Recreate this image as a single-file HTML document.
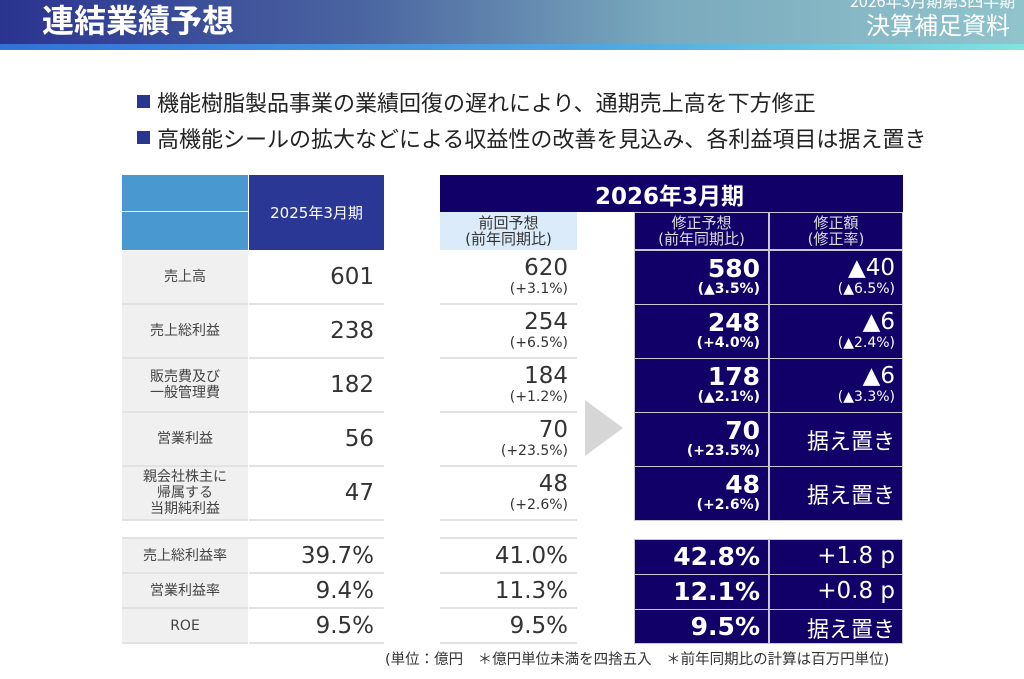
<!DOCTYPE html>
<html><head><meta charset="utf-8"><style>
*{margin:0;padding:0;box-sizing:border-box}
body{width:1024px;height:679px;background:#fff;position:relative;overflow:hidden;font-family:"DejaVu Sans","Noto Sans CJK JP",sans-serif;color:#333}
.a{position:absolute}
.hdr{left:0;top:0;width:1024px;height:44px;background:linear-gradient(90deg,#2a3490 0%,#4a64a0 35%,#7aaabd 65%,#90c4cc 100%)}
.strip{left:0;top:44px;width:1024px;height:6px;background:linear-gradient(90deg,#3470d8,#50a8e0 60%,#80e4e0)}
.c{position:absolute;display:flex;align-items:center;justify-content:center;text-align:center}
.r{position:absolute;text-align:right;white-space:nowrap}
.lab{background:#f0f0f0;font-size:14px;color:#444;line-height:16px;border-bottom:2px solid #e2e2e2}
.val{border-bottom:2px solid #e2e2e2}
.nv{background:#100068;border:1px solid #c8c8d0;color:#fff}
.big{font-size:23px;line-height:25px}
.bb{font-size:25px;line-height:25px;font-weight:bold}
.sm{font-size:14px;line-height:16px}
</style></head><body>
<div class="a hdr"></div><div class="a strip"></div>
<div class="a" style="left:42px;top:-4px;font-size:32px;font-weight:bold;color:#fff;font-family:'Noto Sans CJK JP',sans-serif">連結業績予想</div>
<div class="a" style="left:850px;top:-12px;font-size:16px;color:#fff;font-family:'Noto Sans CJK JP',sans-serif">2026年3月期第3四半期</div>
<div class="a" style="left:866px;top:6px;font-size:24px;color:#fff;font-family:'Noto Sans CJK JP',sans-serif">決算補足資料</div>

<div class="a" style="left:137px;top:95px;width:13px;height:13px;background:#2a3590"></div>
<div class="a" style="left:157px;top:86px;font-size:22px;color:#222">機能樹脂製品事業の業績回復の遅れにより、通期売上高を下方修正</div>
<div class="a" style="left:137px;top:131px;width:13px;height:13px;background:#2a3590"></div>
<div class="a" style="left:157px;top:122px;font-size:22px;color:#222">高機能シールの拡大などによる収益性の改善を見込み、各利益項目は据え置き</div>

<div class="a" style="left:122px;top:175px;width:126px;height:36px;background:#4a98d0"></div>
<div class="a" style="left:122px;top:212px;width:126px;height:38px;background:#4a98d0"></div>
<div class="c" style="left:249px;top:175px;width:135px;height:75px;background:#2a3795;color:#fff;font-size:15px">2025年3月期</div>

<div class="c" style="left:440px;top:175px;width:463px;height:37px;background:#100068;color:#fff;font-size:23px;font-weight:bold;justify-content:flex-start;padding-left:155px">2026年3月期</div>
<div class="c" style="left:440px;top:212px;width:137px;height:38px;background:#dcebfa;color:#333;font-size:15px;line-height:16px">前回予想<br>(前年同期比)</div>
<div class="c nv" style="left:634px;top:212px;width:135px;height:38px;font-size:15px;line-height:16px;color:#ddd">修正予想<br>(前年同期比)</div>
<div class="c nv" style="left:769px;top:212px;width:134px;height:38px;font-size:15px;line-height:16px;color:#ddd">修正額<br>(修正率)</div>

<div class="a" style="left:585px;top:400px;width:0;height:0;border-top:28px solid transparent;border-bottom:28px solid transparent;border-left:38px solid #d6d6d6"></div>

<div class="c lab" style="left:122px;top:251px;width:126px;height:54px">売上高</div>
<div class="c lab" style="left:122px;top:305px;width:126px;height:54px">売上総利益</div>
<div class="c lab" style="left:122px;top:359px;width:126px;height:54px">販売費及び<br>一般管理費</div>
<div class="c lab" style="left:122px;top:413px;width:126px;height:54px">営業利益</div>
<div class="c lab" style="left:122px;top:467px;width:126px;height:54px">親会社株主に<br>帰属する<br>当期純利益</div>

<div class="a val" style="left:249px;top:251px;width:135px;height:54px"></div>
<div class="a val" style="left:249px;top:305px;width:135px;height:54px"></div>
<div class="a val" style="left:249px;top:359px;width:135px;height:54px"></div>
<div class="a val" style="left:249px;top:413px;width:135px;height:54px"></div>
<div class="a val" style="left:249px;top:467px;width:135px;height:54px"></div>
<div class="r big" style="left:249px;width:125px;top:265px">601</div>
<div class="r big" style="left:249px;width:125px;top:319px">238</div>
<div class="r big" style="left:249px;width:125px;top:373px">182</div>
<div class="r big" style="left:249px;width:125px;top:427px">56</div>
<div class="r big" style="left:249px;width:125px;top:481px">47</div>

<div class="a val" style="left:440px;top:251px;width:137px;height:54px"></div>
<div class="a val" style="left:440px;top:305px;width:137px;height:54px"></div>
<div class="a val" style="left:440px;top:359px;width:137px;height:54px"></div>
<div class="a val" style="left:440px;top:413px;width:137px;height:54px"></div>
<div class="a val" style="left:440px;top:467px;width:137px;height:54px"></div>
<div class="r" style="left:440px;width:128px;top:256px"><div class="big">620</div><div class="sm">(+3.1%)</div></div>
<div class="r" style="left:440px;width:128px;top:310px"><div class="big">254</div><div class="sm">(+6.5%)</div></div>
<div class="r" style="left:440px;width:128px;top:364px"><div class="big">184</div><div class="sm">(+1.2%)</div></div>
<div class="r" style="left:440px;width:128px;top:418px"><div class="big">70</div><div class="sm">(+23.5%)</div></div>
<div class="r" style="left:440px;width:128px;top:472px"><div class="big">48</div><div class="sm">(+2.6%)</div></div>

<div class="a nv" style="left:634px;top:250px;width:135px;height:55px"></div>
<div class="a nv" style="left:634px;top:304px;width:135px;height:55px"></div>
<div class="a nv" style="left:634px;top:358px;width:135px;height:55px"></div>
<div class="a nv" style="left:634px;top:412px;width:135px;height:55px"></div>
<div class="a nv" style="left:634px;top:466px;width:135px;height:55px"></div>
<div class="a nv" style="left:769px;top:250px;width:134px;height:55px"></div>
<div class="a nv" style="left:769px;top:304px;width:134px;height:55px"></div>
<div class="a nv" style="left:769px;top:358px;width:134px;height:55px"></div>
<div class="a nv" style="left:769px;top:412px;width:134px;height:55px"></div>
<div class="a nv" style="left:769px;top:466px;width:134px;height:55px"></div>
<div class="r" style="left:634px;width:126px;top:256px;color:#fff;font-weight:bold"><div class="bb">580</div><div class="sm">(▲3.5%)</div></div>
<div class="r" style="left:634px;width:126px;top:310px;color:#fff;font-weight:bold"><div class="bb">248</div><div class="sm">(+4.0%)</div></div>
<div class="r" style="left:634px;width:126px;top:364px;color:#fff;font-weight:bold"><div class="bb">178</div><div class="sm">(▲2.1%)</div></div>
<div class="r" style="left:634px;width:126px;top:418px;color:#fff;font-weight:bold"><div class="bb">70</div><div class="sm">(+23.5%)</div></div>
<div class="r" style="left:634px;width:126px;top:472px;color:#fff;font-weight:bold"><div class="bb">48</div><div class="sm">(+2.6%)</div></div>
<div class="r" style="left:769px;width:126px;top:256px;color:#fff"><div class="big">▲40</div><div class="sm">(▲6.5%)</div></div>
<div class="r" style="left:769px;width:126px;top:310px;color:#fff"><div class="big">▲6</div><div class="sm">(▲2.4%)</div></div>
<div class="r" style="left:769px;width:126px;top:364px;color:#fff"><div class="big">▲6</div><div class="sm">(▲3.3%)</div></div>
<div class="r" style="left:769px;width:126px;top:424px;color:#fff;font-size:22px">据え置き</div>
<div class="r" style="left:769px;width:126px;top:478px;color:#fff;font-size:22px">据え置き</div>

<div class="a" style="left:122px;top:537px;width:262px;height:2px;background:#e2e2e2"></div>
<div class="a" style="left:440px;top:537px;width:137px;height:2px;background:#e2e2e2"></div>
<div class="c lab" style="left:122px;top:539px;width:126px;height:35px">売上総利益率</div>
<div class="c lab" style="left:122px;top:574px;width:126px;height:35px">営業利益率</div>
<div class="c lab" style="left:122px;top:609px;width:126px;height:35px">ROE</div>
<div class="a val" style="left:249px;top:539px;width:135px;height:35px"></div>
<div class="a val" style="left:249px;top:574px;width:135px;height:35px"></div>
<div class="a val" style="left:249px;top:609px;width:135px;height:35px"></div>
<div class="a val" style="left:440px;top:539px;width:137px;height:35px"></div>
<div class="a val" style="left:440px;top:574px;width:137px;height:35px"></div>
<div class="a val" style="left:440px;top:609px;width:137px;height:35px"></div>
<div class="r big" style="left:249px;width:125px;top:544px">39.7%</div>
<div class="r big" style="left:249px;width:125px;top:579px">9.4%</div>
<div class="r big" style="left:249px;width:125px;top:614px">9.5%</div>
<div class="r big" style="left:440px;width:128px;top:544px">41.0%</div>
<div class="r big" style="left:440px;width:128px;top:579px">11.3%</div>
<div class="r big" style="left:440px;width:128px;top:614px">9.5%</div>
<div class="a nv" style="left:634px;top:539px;width:135px;height:36px"></div>
<div class="a nv" style="left:634px;top:574px;width:135px;height:36px"></div>
<div class="a nv" style="left:634px;top:609px;width:135px;height:35px"></div>
<div class="a nv" style="left:769px;top:539px;width:134px;height:36px"></div>
<div class="a nv" style="left:769px;top:574px;width:134px;height:36px"></div>
<div class="a nv" style="left:769px;top:609px;width:134px;height:35px"></div>
<div class="r bb" style="left:634px;width:126px;top:544px;color:#fff">42.8%</div>
<div class="r bb" style="left:634px;width:126px;top:579px;color:#fff">12.1%</div>
<div class="r bb" style="left:634px;width:126px;top:614px;color:#fff">9.5%</div>
<div class="r big" style="left:769px;width:126px;top:544px;color:#fff">+1.8 p</div>
<div class="r big" style="left:769px;width:126px;top:579px;color:#fff">+0.8 p</div>
<div class="r" style="left:769px;width:126px;top:612px;color:#fff;font-size:22px">据え置き</div>

<div class="a" style="left:385px;top:648px;font-size:14.5px;color:#333;white-space:pre">(単位：億円　＊億円単位未満を四捨五入　＊前年同期比の計算は百万円単位)</div>
</body></html>
